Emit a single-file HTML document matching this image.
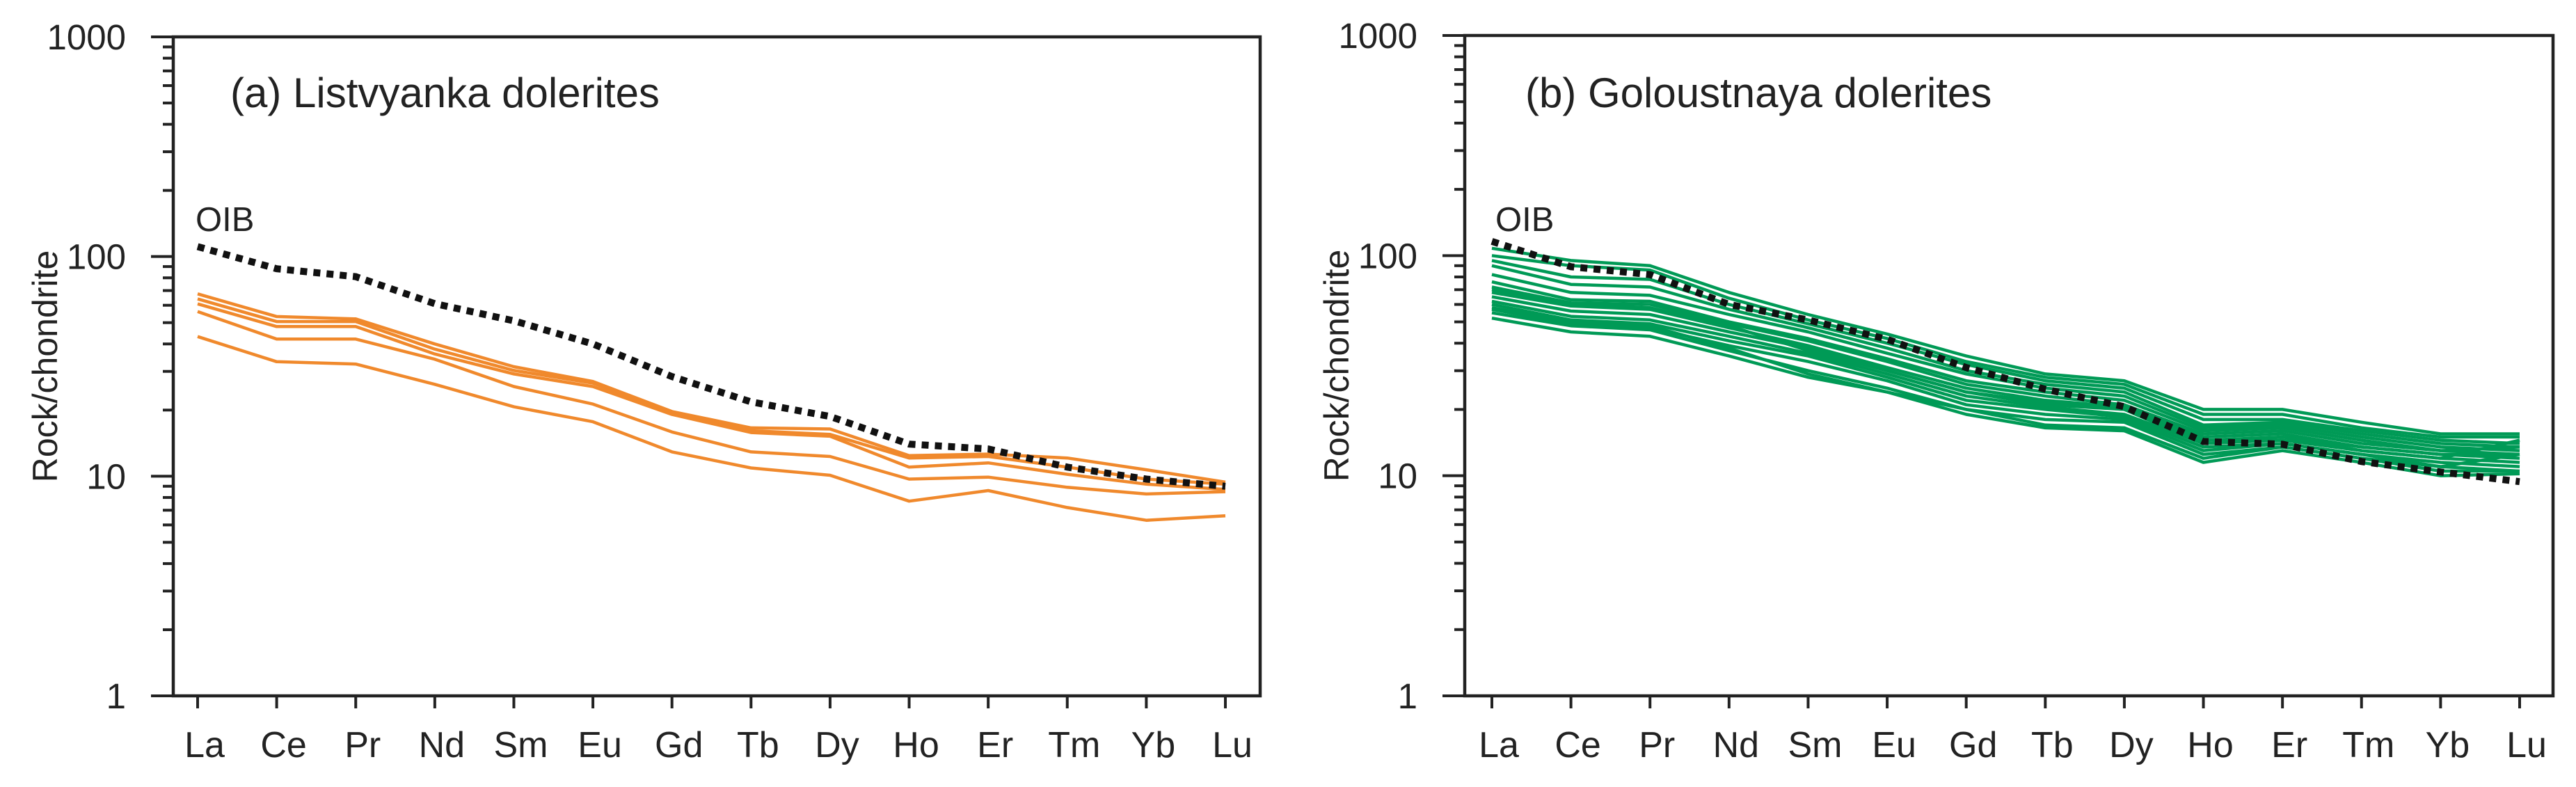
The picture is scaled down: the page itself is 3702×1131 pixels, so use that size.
<!DOCTYPE html>
<html><head><meta charset="utf-8"><style>
html,body{margin:0;padding:0;background:#fff}
svg{display:block}
text{font-family:"Liberation Sans",Arial,sans-serif;fill:#222}
</style></head><body>
<svg id="chart" width="3702" height="1131" viewBox="0 0 3702 1131" xmlns="http://www.w3.org/2000/svg"></svg>
<script>
const elements = ["La","Ce","Pr","Nd","Sm","Eu","Gd","Tb","Dy","Ho","Er","Tm","Yb","Lu"];
const yTickLabels = ["1","10","100","1000"];
const oibA = [111,88,81,61,51,40,28.4,21.8,18.7,14,13.3,11,9.7,9.0];
const listvyanka1 = [67.6,53.3,52.0,40.0,31.5,27.0,19.7,16.6,16.4,12.4,12.6,12.1,10.7,9.4];
const listvyanka2 = [64.1,50.6,50.6,37.9,30.3,26.5,19.5,16.1,15.5,12.1,12.3,11.0,9.7,9.2];
const listvyanka3 = [60.9,48.0,48.0,36.0,29.2,25.6,19.1,15.8,15.2,11.0,11.5,10.2,9.2,8.7];
const listvyanka4 = [56.2,42.1,42.1,34.1,25.6,21.3,15.9,12.9,12.3,9.7,9.9,8.9,8.3,8.5];
const listvyanka5 = [43.2,33.2,32.4,26.2,20.7,17.7,12.9,10.9,10.1,7.7,8.6,7.2,6.3,6.6];
const oibB = [116,89,82,60,51,41.7,31,24.7,20.6,14.3,13.9,11.6,10.4,9.4];
const goloustnaya1 = [108,95,90,68,54,44,35,29,27,20,20,17.5,15.5,15.5];
const goloustnaya2 = [100,90,86,64,51,42,33,28,26,19,19,16.5,15,15];
const goloustnaya3 = [95,80,78,60,49,40,32,27,25,18,18,16,14.5,14];
const goloustnaya4 = [90,74,72,57,47,38,30,26,24,17,17.5,15.5,14,13.5];
const goloustnaya5 = [82,68,66,54,45,36,29,25,23,16.5,17,15,13.5,13];
const goloustnaya6 = [76,63,62,50,42,34,27,24,22,16,16.5,14.5,13,13.5];
const goloustnaya7 = [72,61,60,49,41,33,26,23,21,15.5,16,14,13,12.5];
const goloustnaya8 = [68,59,57,47,39,31,25,22,20.5,15,15.5,13.5,12.5,12];
const goloustnaya9 = [65,56,54,45,38,30,24,21,20,14.5,15,13.5,12.5,12.5];
const goloustnaya10 = [62,53,51,43,36,29,23,20.5,19,14,14.5,13,12,11.5];
const goloustnaya11 = [60,51,49,41,35,28,22,20,18.5,13.5,14,12.5,11.5,11];
const goloustnaya12 = [57,49,47,39,33,27,21,19,18,13,14,12.5,11,10.5];
const goloustnaya13 = [55,48,46,37,30,25,20,18,17.5,12.5,13.5,12,11,12.5];
const goloustnaya14 = [52,45,43,35,28,24,19,16.5,16,11.5,13,11.5,10,10.2];
const goloustnaya15 = [58,50,48,38,29,24,20,17,16.5,12,13.5,12,10.5,10.5];
const goloustnaya16 = [70,60,58,48,37,30,24,21.5,20,14,15,13,12,14.5];

const NS="http://www.w3.org/2000/svg";
const svg=document.getElementById('chart');
function mk(tag,attrs,parent){const e=document.createElementNS(NS,tag);for(const k in attrs)e.setAttribute(k,attrs[k]);(parent||svg).appendChild(e);return e;}

function panel(cfg){
  const g=mk('g',{});
  
  
  const x=i=>cfg.x0+i*(cfg.x1-cfg.x0)/(elements.length-1);
  const y=v=>cfg.yBot-(Math.log10(v))*(cfg.yBot-cfg.yTop)/3;
  cfg.series.forEach((s,k)=>{
    const p=mk('polyline',{points:s.map((v,i)=>x(i).toFixed(1)+','+y(v).toFixed(1)).join(' '),fill:'none',stroke:cfg.color,'stroke-width':4.5,'stroke-linejoin':'round'},g);
    
    
  });
  const o=mk('polyline',{points:cfg.oib.map((v,i)=>x(i).toFixed(1)+','+y(v).toFixed(1)).join(' '),fill:'none',stroke:'#111','stroke-width':10,'stroke-dasharray':'10 9'},g);
  
  
  const f=mk('rect',{x:cfg.left,y:cfg.yTop,width:cfg.right-cfg.left,height:cfg.yBot-cfg.yTop,fill:'none',stroke:'#222','stroke-width':4.5},g);
  
  
  for(let d=0;d<3;d++){
    for(let m=2;m<=9;m++){
      const yy=y(Math.pow(10,d)*m);
      mk('line',{x1:cfg.left-15,x2:cfg.left,y1:yy,y2:yy,stroke:'#222','stroke-width':4},g);
    }
  }
  yTickLabels.forEach((lab,i)=>{
    const yy=y(Math.pow(10,i));
    mk('line',{x1:cfg.left-32,x2:cfg.left,y1:yy,y2:yy,stroke:'#222','stroke-width':4},g);
    const t=mk('text',{x:cfg.left-68,y:yy+18,'text-anchor':'end','font-size':51},g);
    t.textContent=lab;
    
    
  });
  elements.forEach((el,i)=>{
    mk('line',{x1:x(i),x2:x(i),y1:cfg.yBot,y2:cfg.yBot+18,stroke:'#222','stroke-width':4},g);
    const t=mk('text',{x:x(i)+10,y:1088,'text-anchor':'middle','font-size':52},g);
    t.textContent=el;
    
    
  });
  const yl=mk('text',{x:0,y:0,transform:`translate(${cfg.left-167},${(cfg.yTop+cfg.yBot)/2}) rotate(-90)`,'text-anchor':'middle','font-size':50},g);
  yl.textContent='Rock/chondrite';
  
  
  const tt=mk('text',{x:cfg.titleX,y:154,'font-size':60},g);
  tt.textContent=cfg.title;
  
  
  const ol=mk('text',{x:cfg.oibX,y:332,'font-size':49},g);
  ol.textContent='OIB';
  
  
}

panel({name:'panel-a-listvyanka',left:249,right:1811,yTop:53,yBot:1000,x0:284,x1:1761,color:'#F0892C',seriesName:'listvyanka-sample',
  series:[listvyanka1,listvyanka2,listvyanka3,listvyanka4,listvyanka5],oib:oibA,title:'(a) Listvyanka dolerites',titleX:331,oibX:281});
panel({name:'panel-b-goloustnaya',left:2105,right:3669,yTop:51,yBot:1000,x0:2144,x1:3621,color:'#009A56',seriesName:'goloustnaya-sample',
  series:[goloustnaya1,goloustnaya2,goloustnaya3,goloustnaya4,goloustnaya5,goloustnaya6,goloustnaya7,goloustnaya8,goloustnaya9,goloustnaya10,goloustnaya11,goloustnaya12,goloustnaya13,goloustnaya14,goloustnaya15,goloustnaya16],
  oib:oibB,title:'(b) Goloustnaya dolerites',titleX:2192,oibX:2149});
</script>
</body></html>
